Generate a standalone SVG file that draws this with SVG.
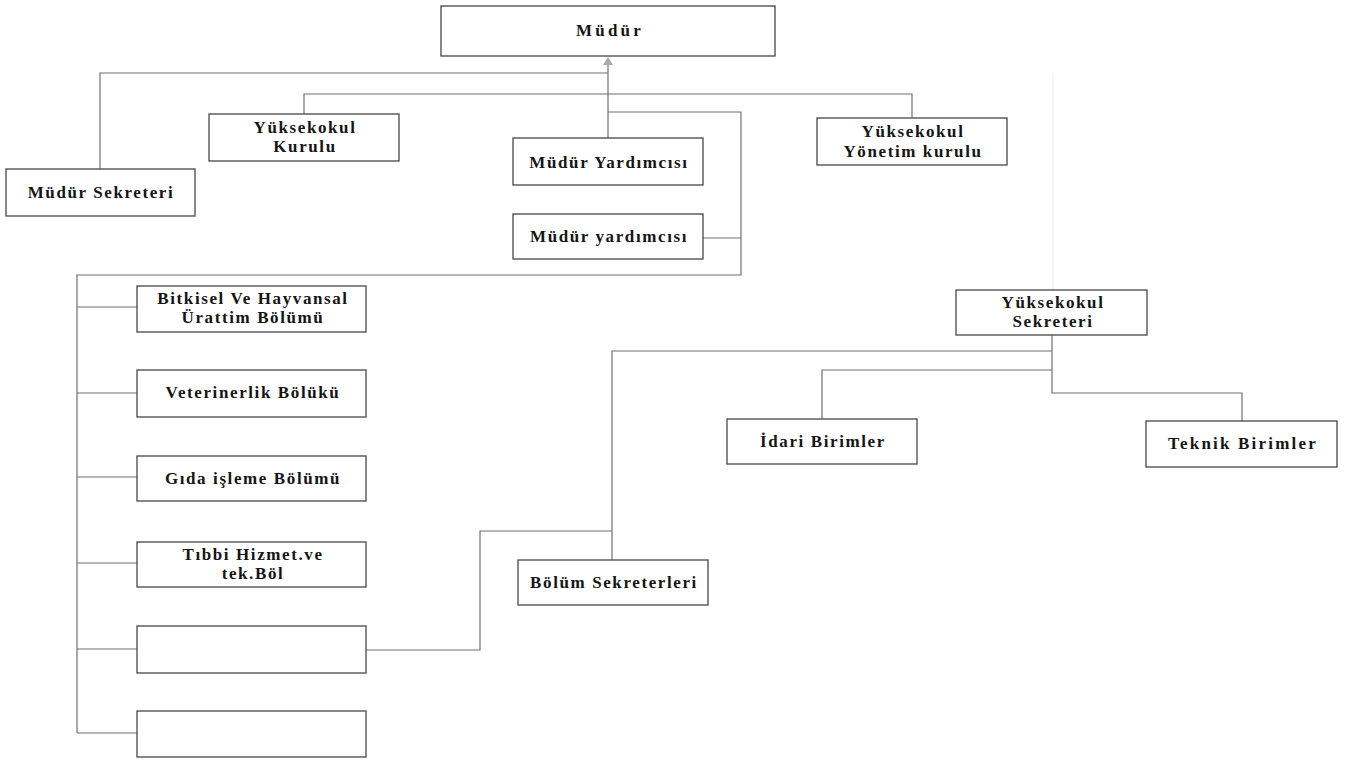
<svg xmlns="http://www.w3.org/2000/svg" width="1350" height="763" viewBox="0 0 1350 763">
<style>
.box{fill:#fff;stroke:#555;stroke-width:1.4}
.t{font-family:"Liberation Serif","Times New Roman",serif;font-weight:bold;font-size:17px;fill:#151515;text-anchor:middle;letter-spacing:1.6px}
.c{fill:none;stroke:#707070;stroke-width:1.2}
.faint{fill:none;stroke:#eeeeee;stroke-width:1.2}
</style>
<rect width="1350" height="763" fill="#fff"/>
<g id="connectors">
<path class="faint" d="M1053 73V290"/>
<polygon points="608,57 603,65 613,65" fill="#aaa"/>
<path class="c" d="M608 65V138"/>
<path class="c" d="M100 169V73H608"/>
<path class="c" d="M304 114V94H912V118"/>
<path class="c" d="M608 112H741V275H77V733"/>
<path class="c" d="M703 238H741"/>
<path class="c" d="M77 307H137M77 393H137M77 477H137M77 563H137M77 649H137M77 733H137"/>
<path class="c" d="M366 650H480V531H612"/>
<path class="c" d="M612 560V351H1052"/>
<path class="c" d="M1052 335V393H1242V421"/>
<path class="c" d="M1052 370H822V419"/>
</g>
<g id="mudur"><rect class="box" x="441" y="6" width="334" height="50"/><text class="t" x="610" y="36" style="letter-spacing:3.2px">Müdür</text></g>
<g id="mudur-sekreteri"><rect class="box" x="6" y="169" width="189" height="47"/><text class="t" x="101" y="198">Müdür Sekreteri</text></g>
<g id="yuksekokul-kurulu"><rect class="box" x="209" y="114" width="190" height="47"/><text class="t" x="305" y="133">Yüksekokul</text><text class="t" x="305" y="152">Kurulu</text></g>
<g id="mudur-yardimcisi-1"><rect class="box" x="513" y="138" width="190" height="47"/><text class="t" x="609" y="168">Müdür Yardımcısı</text></g>
<g id="mudur-yardimcisi-2"><rect class="box" x="513" y="214" width="190" height="45"/><text class="t" x="609" y="242">Müdür yardımcısı</text></g>
<g id="yonetim-kurulu"><rect class="box" x="817" y="118" width="190" height="47"/><text class="t" x="913" y="137">Yüksekokul</text><text class="t" x="913" y="157">Yönetim kurulu</text></g>
<g id="yuksekokul-sekreteri"><rect class="box" x="956" y="290" width="191" height="45"/><text class="t" x="1053" y="308">Yüksekokul</text><text class="t" x="1053" y="327">Sekreteri</text></g>
<g id="idari-birimler"><rect class="box" x="727" y="419" width="190" height="45"/><text class="t" x="823" y="447">İdari Birimler</text></g>
<g id="teknik-birimler"><rect class="box" x="1146" y="421" width="191" height="46"/><text class="t" x="1243" y="449" style="letter-spacing:2.2px">Teknik Birimler</text></g>
<g id="bitkisel"><rect class="box" x="137" y="286" width="229" height="46"/><text class="t" x="253" y="304">Bitkisel Ve Hayvansal</text><text class="t" x="253" y="323">Ürattim Bölümü</text></g>
<g id="veterinerlik"><rect class="box" x="137" y="370" width="229" height="47"/><text class="t" x="253" y="398">Veterinerlik Bölükü</text></g>
<g id="gida"><rect class="box" x="137" y="456" width="229" height="45"/><text class="t" x="253" y="484">Gıda işleme Bölümü</text></g>
<g id="tibbi"><rect class="box" x="137" y="542" width="229" height="45"/><text class="t" x="253" y="560">Tıbbi Hizmet.ve</text><text class="t" x="253" y="579">tek.Böl</text></g>
<g id="bos-1"><rect class="box" x="137" y="626" width="229" height="47"/></g>
<g id="bos-2"><rect class="box" x="137" y="711" width="229" height="46"/></g>
<g id="bolum-sekreterleri"><rect class="box" x="518" y="560" width="190" height="45"/><text class="t" x="614" y="588">Bölüm Sekreterleri</text></g>
</svg>
